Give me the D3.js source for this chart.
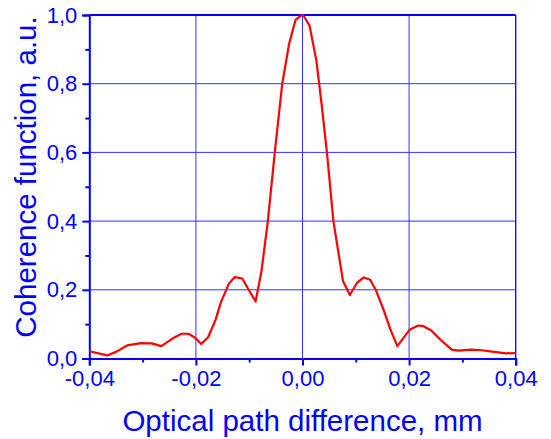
<!DOCTYPE html>
<html>
<head>
<meta charset="utf-8">
<script src="https://cdn.jsdelivr.net/npm/d3@7"></script>
<style>
  body { margin: 0; background: #fff; }
  text { font-family: "Liberation Sans", Arial, sans-serif; fill: #0000ff; }
</style>
</head>
<body>
<div id="chart"></div>
<script>
// data
var opd = [-0.0400, -0.0366, -0.0349, -0.0329, -0.0303, -0.0283, -0.0265, -0.0244, -0.0227,
           -0.0214, -0.0201, -0.0190, -0.0177, -0.0163, -0.0153, -0.0138, -0.0127, -0.0113,
           -0.0101, -0.0088, -0.0077, -0.0065, -0.0052, -0.0038, -0.0025, -0.0013, -0.0003,
            0.0001, 0.0013, 0.0026, 0.0036, 0.0046, 0.0058, 0.0076, 0.0089, 0.0102, 0.0115,
            0.0127, 0.0138, 0.0152, 0.0165, 0.0178, 0.0201, 0.0217, 0.0227, 0.0241, 0.0260,
            0.0280, 0.0293, 0.0316, 0.0336, 0.0356, 0.0382, 0.0400];
var coherence = [0.021, 0.009, 0.020, 0.038, 0.045, 0.044, 0.036, 0.058, 0.072,
                 0.072, 0.060, 0.042, 0.062, 0.113, 0.164, 0.218, 0.237, 0.233,
                 0.200, 0.166, 0.254, 0.400, 0.600, 0.800, 0.917, 0.986, 0.998,
                 1.000, 0.970, 0.868, 0.738, 0.597, 0.400, 0.225, 0.185, 0.220, 0.236,
                 0.229, 0.198, 0.142, 0.084, 0.036, 0.084, 0.096, 0.094, 0.082, 0.053,
                 0.026, 0.023, 0.026, 0.024, 0.020, 0.015, 0.016];
var xTicks = [-0.04, -0.02, 0.00, 0.02, 0.04];
var xMinor = [-0.03, -0.01, 0.01, 0.03];
var yTicks = [0.0, 0.2, 0.4, 0.6, 0.8, 1.0];
var yMinor = [0.1, 0.3, 0.5, 0.7, 0.9];

var width = 551;
var height = 439;
var margin = {top: 15, right: 35.3, bottom: 80.5, left: 89.3};
var inner_width = width - margin.left - margin.right;
var inner_height = height - margin.top - margin.bottom;

var blue = "#0000ff";
var grid_color = "#3333ff";

var svg = d3.select("#chart")
            .append("svg")
            .attr("width", width)
            .attr("height", height)
            .append("g")
            .attr("transform", "translate(" + margin.left + "," + margin.top + ")");

var xScale = d3.scaleLinear().domain([-0.04, 0.04]).range([0, inner_width]);
var yScale = d3.scaleLinear().domain([0, 1]).range([inner_height, 0]);

var fmt = function(d) { return d3.format(".2f")(d).replace(".", ",").replace("−", "-"); };
var fmtY = function(d) { return d3.format(".1f")(d).replace(".", ","); };

// grid lines
svg.append("g").selectAll("line")
   .data(xTicks.slice(1, -1))
   .enter().append("line")
   .attr("x1", function(d) { return xScale(d); })
   .attr("x2", function(d) { return xScale(d); })
   .attr("y1", 0).attr("y2", inner_height)
   .attr("stroke", grid_color).attr("stroke-width", 1);
svg.append("g").selectAll("line")
   .data(yTicks.slice(1, -1))
   .enter().append("line")
   .attr("x1", 0).attr("x2", inner_width)
   .attr("y1", function(d) { return yScale(d); })
   .attr("y2", function(d) { return yScale(d); })
   .attr("stroke", grid_color).attr("stroke-width", 1);

// frame top and right
svg.append("line").attr("x1", 0).attr("x2", inner_width).attr("y1", 0).attr("y2", 0)
   .attr("stroke", blue).attr("stroke-width", 2);
svg.append("line").attr("x1", inner_width).attr("x2", inner_width).attr("y1", 0).attr("y2", inner_height)
   .attr("stroke", blue).attr("stroke-width", 1.3);

// x axis
svg.append("g")
   .attr("transform", "translate(0," + inner_height + ")")
   .call(d3.axisBottom(xScale).tickValues(xTicks).tickFormat(fmt).tickSize(7).tickPadding(5));
svg.append("g")
   .attr("transform", "translate(0," + inner_height + ")")
   .call(d3.axisBottom(xScale).tickValues(xMinor).tickFormat("").tickSize(4))
   .select(".domain").remove();

// y axis
svg.append("g")
   .call(d3.axisLeft(yScale).tickValues(yTicks).tickFormat(fmtY).tickSize(7).tickPadding(5));
svg.append("g")
   .call(d3.axisLeft(yScale).tickValues(yMinor).tickFormat("").tickSize(4))
   .select(".domain").remove();

svg.selectAll(".domain").attr("stroke", blue).attr("stroke-width", 2);
svg.selectAll(".tick line").attr("stroke", blue).attr("stroke-width", 2);
svg.selectAll(".tick text")
   .attr("fill", blue)
   .style("font-size", "22px")
   .style("font-family", "Liberation Sans, Arial, sans-serif");

// curve
var line = d3.line()
             .x(function(d, i) { return xScale(opd[i]); })
             .y(function(d) { return yScale(d); });
svg.append("path")
   .datum(coherence)
   .attr("d", line)
   .attr("fill", "none")
   .attr("stroke", "#ff0000")
   .attr("stroke-width", 2.2)
   .attr("stroke-linejoin", "round");

// axis titles
svg.append("text")
   .attr("x", inner_width / 2)
   .attr("y", inner_height + 72)
   .attr("text-anchor", "middle")
   .style("font-size", "29.5px")
   .text("Optical path difference, mm");
svg.append("text")
   .attr("transform", "translate(" + (36 - margin.left) + "," + (177 - margin.top) + ") rotate(-90)")
   .attr("text-anchor", "middle")
   .style("font-size", "29.5px")
   .text("Coherence function, a.u.");
</script>
</body>
</html>
